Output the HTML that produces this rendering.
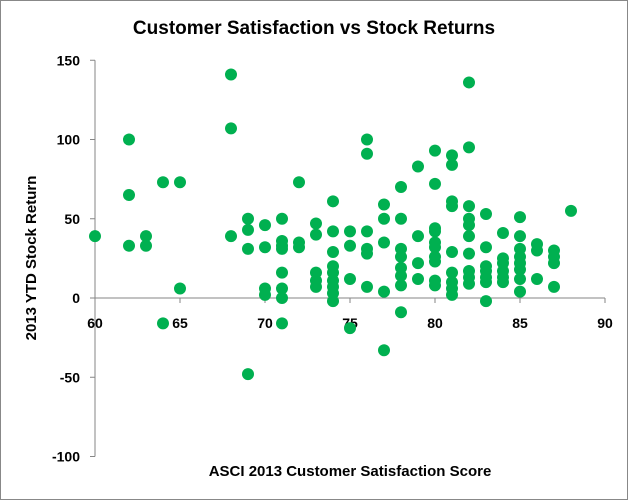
<!DOCTYPE html>
<html><head><meta charset="utf-8"><style>
body{margin:0;background:#fff}
svg{display:block;font-family:"Liberation Sans",sans-serif}
</style></head><body>
<svg id="chart" width="628" height="500">
<rect x="0.5" y="0.5" width="627" height="499" fill="#fff" stroke="#888"/>
<text x="314" y="34" text-anchor="middle" font-size="19" font-weight="bold">Customer Satisfaction vs Stock Returns</text>
<text transform="translate(36,258) rotate(-90)" text-anchor="middle" font-size="15" font-weight="bold">2013 YTD Stock Return</text>
<text x="350" y="476" text-anchor="middle" font-size="15" font-weight="bold">ASCI 2013 Customer Satisfaction Score</text>
<g id="axes"></g>
<g id="points"></g>
</svg>
<script>
const xTicks=[60,65,70,75,80,85,90];
const yTicks=[150,100,50,0,-50,-100];
const scoreX=[60,62,62,62,63,63,64,64,65,65,68,68,68,69,69,69,69,70,70,70,70,71,71,71,71,71,71,71,71,72,72,72,73,73,73,73,73,74,74,74,74,74,74,74,74,74,75,75,75,75,76,76,76,76,76,76,77,77,77,77,77,78,78,78,78,78,78,78,78,79,79,79,79,80,80,80,80,80,80,80,80,80,80,81,81,81,81,81,81,81,81,81,82,82,82,82,82,82,82,82,82,82,83,83,83,83,83,83,83,84,84,84,84,84,84,85,85,85,85,85,85,85,85,86,86,86,87,87,87,87,88];
const returnY=[39,100,65,33,39,33,73,-16,73,6,141,107,39,50,43,31,-48,46,32,6,2,50,36,33,31,16,6,0,-16,73,35,32,47,40,16,11,7,61,42,29,20,16,11,7,3,-2,42,33,12,-19,100,91,42,31,28,7,59,50,35,4,-33,70,50,31,26,19,14,8,-9,83,39,22,12,93,72,44,42,35,32,26,23,11,8,90,84,61,58,29,16,10,6,2,136,95,58,50,46,39,28,17,13,9,53,32,20,17,13,10,-2,41,25,22,17,13,10,51,39,31,26,22,18,12,4,34,30,12,30,26,22,7,55];
const NS="http://www.w3.org/2000/svg";
const sx=v=>95+(v-60)*17;
const sy=v=>298-v*1.585;
const axes=document.getElementById('axes');
function mk(tag,attrs,parent){const e=document.createElementNS(NS,tag);for(const k in attrs)e.setAttribute(k,attrs[k]);parent.appendChild(e);return e;}
const ya=mk('line',{x1:95,x2:95,y1:sy(150),y2:sy(-100),stroke:'#868686'},axes);


const xa=mk('line',{x1:95,x2:sx(90),y1:sy(0),y2:sy(0),stroke:'#868686'},axes);


yTicks.forEach(t=>{
 mk('line',{x1:90,x2:95,y1:sy(t),y2:sy(t),stroke:'#868686'},axes);
 const tx=mk('text',{x:80,y:sy(t)+5,'text-anchor':'end','font-size':14,'font-weight':'bold'},axes);
 tx.textContent=t;
 
 
});
xTicks.forEach(t=>{
 mk('line',{x1:sx(t),x2:sx(t),y1:sy(0),y2:sy(0)+5,stroke:'#868686'},axes);
 const tx=mk('text',{x:sx(t),y:sy(0)+30,'text-anchor':'middle','font-size':14,'font-weight':'bold'},axes);
 tx.textContent=t;
 
 
});
const pts=document.getElementById('points');
scoreX.forEach((x,i)=>{
 const c=mk('circle',{cx:sx(x),cy:sy(returnY[i]),r:6,fill:'#00b050'},pts);
 
 
});
</script>
</body></html>
